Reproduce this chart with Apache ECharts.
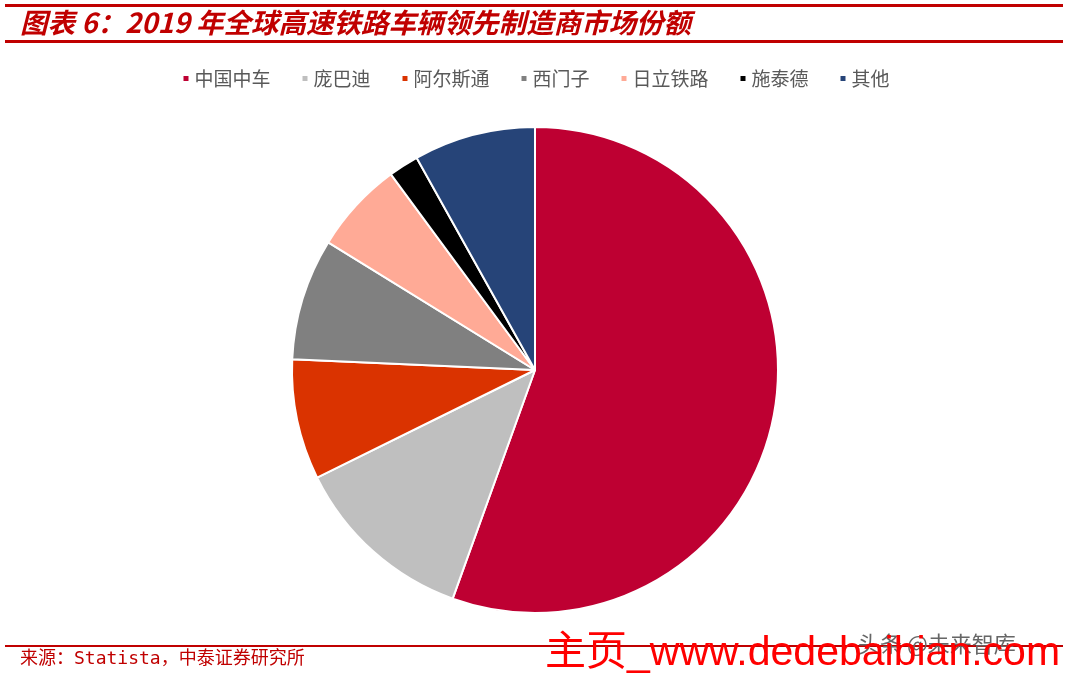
<!DOCTYPE html>
<html><head><meta charset="utf-8">
<script src="https://cdn.jsdelivr.net/npm/echarts@6/dist/echarts.min.js"></script>
<style>html,body{margin:0;padding:0;background:#fff}#c{width:1071px;height:681px}</style>
</head><body><div id="c"></div>
<script>
const titleText = '图表 6：2019 年全球高速铁路车辆领先制造商市场份额';
const sourceText = '来源：Statista，中泰证券研究所';
const categories = ['中国中车', '庞巴迪', '阿尔斯通', '西门子', '日立铁路', '施泰德', '其他'];
const shares = [55.5, 12.2, 8.0, 8.1, 6.1, 2.0, 8.1];
const colors = ['#BE0032', '#BFBFBF', '#DA3300', '#808080', '#FFAA96', '#000000', '#264478'];

const chart = echarts.init(document.getElementById('c'));
chart.setOption({
  backgroundColor: '#fff',
  animation: false,
  color: colors,
  legend: {
    data: categories,
    top: 64,
    left: 'center',
    icon: 'rect',
    itemWidth: 7,
    itemHeight: 7,
    itemGap: 30,
    textStyle: { fontSize: 19, color: '#595959', fontFamily: 'Noto Sans CJK SC' }
  },
  series: [{
    type: 'pie',
    center: [535, 370],
    radius: [0, 243],
    startAngle: 90,
    clockwise: true,
    label: { show: false },
    labelLine: { show: false },
    itemStyle: { borderColor: '#fff', borderWidth: 2 },
    data: categories.map((n, i) => ({ name: n, value: shares[i] }))
  }],
  graphic: [
    { type: 'rect', shape: { x: 5, y: 4, width: 1058, height: 3 }, style: { fill: '#C00000' } },
    { type: 'text', left: 20, top: 9, style: { text: titleText, fill: '#C00000', font: 'italic bold 27.5px "Noto Sans CJK SC"' } },
    { type: 'rect', shape: { x: 5, y: 40, width: 1058, height: 3 }, style: { fill: '#C00000' } },
    { type: 'rect', shape: { x: 5, y: 645, width: 1058, height: 2 }, style: { fill: '#C00000' } },
    { type: 'text', left: 20, top: 650, style: { text: sourceText, fill: '#C00000', font: '18px "DejaVu Sans Mono", "Noto Sans CJK SC"' } },
    { type: 'text', left: 858, top: 633, style: { text: '头条 @未来智库', fill: '#666', font: '22px "Noto Sans CJK SC"' } },
    { type: 'text', left: 545, top: 633, style: { text: '主页_www.dedebaibian.com', fill: '#FF0000', font: '41px "Liberation Sans", "Noto Sans CJK SC"' } }
  ]
});
</script></body></html>
